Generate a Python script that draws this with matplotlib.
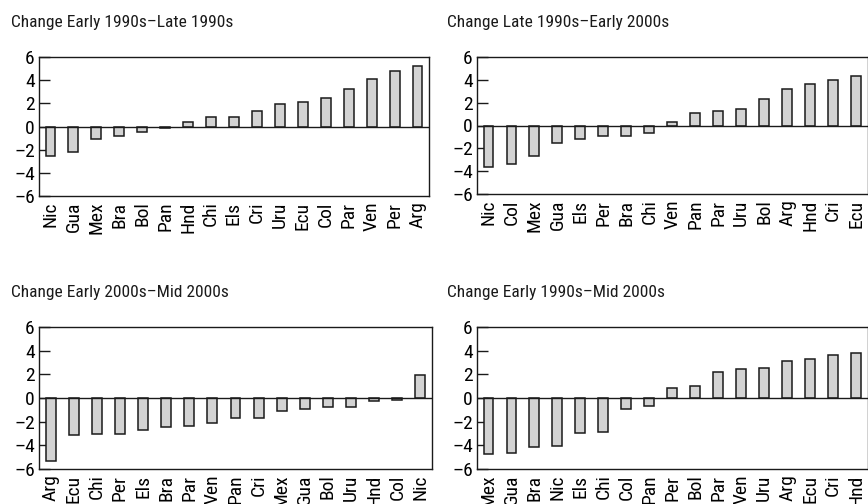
import matplotlib
matplotlib.use("Agg")
import matplotlib.pyplot as plt
import numpy as np

plt.rcParams['font.family'] = ['Roboto Condensed', 'Roboto', 'DejaVu Sans']

# change by country, sorted the way each panel shows them
titles = ["Change Early 1990s\u2013Late 1990s",
          "Change Late 1990s\u2013Early 2000s",
          "Change Early 2000s\u2013Mid 2000s",
          "Change Early 1990s\u2013Mid 2000s"]

countries_a = ["Nic", "Gua", "Mex", "Bra", "Bol", "Pan", "Hnd", "Chi", "Els",
               "Cri", "Uru", "Ecu", "Col", "Par", "Ven", "Per", "Arg"]
values_a = [-2.55, -2.23, -1.07, -0.84, -0.49, -0.15, 0.35, 0.78, 0.78,
            1.33, 1.94, 2.14, 2.46, 3.22, 4.14, 4.78, 5.25]

countries_b = ["Nic", "Col", "Mex", "Gua", "Els", "Per", "Bra", "Chi", "Ven",
               "Pan", "Par", "Uru", "Bol", "Arg", "Hnd", "Cri", "Ecu"]
values_b = [-3.61, -3.35, -2.67, -1.54, -1.16, -0.95, -0.89, -0.68, 0.33,
            1.07, 1.24, 1.42, 2.28, 3.17, 3.64, 3.97, 4.30]

countries_c = ["Arg", "Ecu", "Chi", "Per", "Els", "Bra", "Par", "Ven", "Pan",
               "Cri", "Mex", "Gua", "Bol", "Uru", "Hnd", "Col", "Nic"]
values_c = [-5.29, -3.14, -3.03, -3.03, -2.69, -2.46, -2.34, -2.09, -1.66,
            -1.66, -1.11, -0.94, -0.80, -0.80, -0.26, -0.17, 1.97]

countries_d = ["Mex", "Gua", "Bra", "Nic", "Els", "Chi", "Col", "Pan", "Per",
               "Bol", "Par", "Ven", "Uru", "Arg", "Ecu", "Cri", "Hnd"]
values_d = [-4.71, -4.62, -4.11, -4.09, -2.98, -2.89, -0.96, -0.68, 0.85,
            0.99, 2.16, 2.44, 2.55, 3.12, 3.29, 3.60, 3.77]

yticks = [-6, -4, -2, 0, 2, 4, 6]

W, H = 868, 504
fig = plt.figure(figsize=(W / 100, H / 100), dpi=100)

# axes boxes in pixels: left, top, right, bottom
boxes = [(39, 57, 429, 196), (477, 57, 867.5, 194),
         (39, 327, 432, 469), (477, 327, 867.5, 469)]
title_pos = [(11, 23), (447, 23), (11, 293), (447, 293)]

panels = [(countries_a, values_a), (countries_b, values_b),
          (countries_c, values_c), (countries_d, values_d)]

for i, (names, vals) in enumerate(panels):
    l, t, r, b = boxes[i]
    ax = fig.add_axes([l / W, 1 - b / H, (r - l) / W, (b - t) / H])
    x = np.arange(len(names))
    ax.bar(x, vals, width=0.43, color="#d3d3d3", edgecolor="#1a1a1a", linewidth=1.1, zorder=2)
    ax.axhline(0, color="#1a1a1a", linewidth=1.0, zorder=3)
    ax.set_xlim(-0.5, len(names) - 0.5)
    ax.set_ylim(-6, 6)
    ax.set_yticks(yticks)
    ax.set_yticklabels([("\u2013%d" % -v) if v < 0 else "%d" % v for v in yticks], fontsize=14)
    ax.set_xticks(x)
    ax.set_xticklabels(names, rotation=90, fontsize=14)
    ax.tick_params(axis='y', direction='in', length=8, width=1, color="#1a1a1a", pad=3)
    ax.tick_params(axis='x', length=0, pad=4)
    for s in ax.spines.values():
        s.set_color("#1a1a1a")
        s.set_linewidth(1.0)
    tx, ty = title_pos[i]
    fig.text(tx / W, 1 - ty / H, titles[i], fontsize=12.5, va='center', ha='left', color="#1a1a1a")

fig.savefig("out.png", dpi=100)
